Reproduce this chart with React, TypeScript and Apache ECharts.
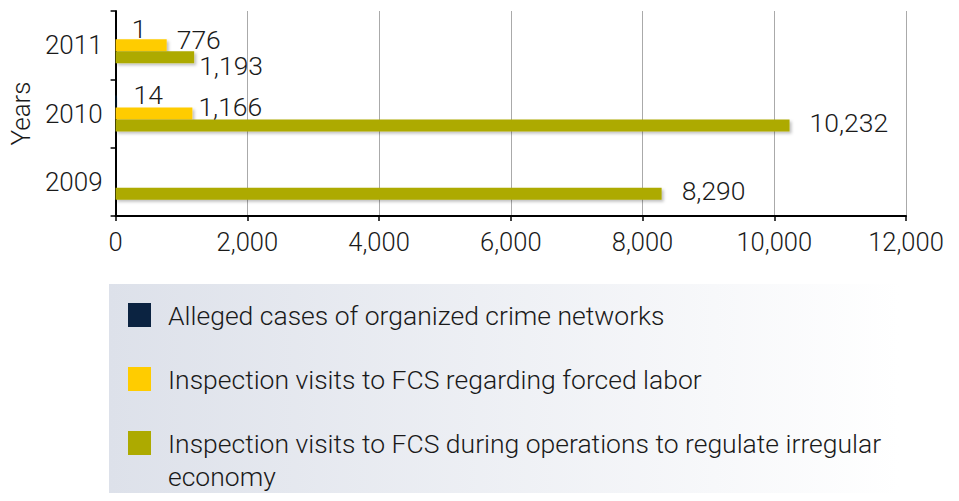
import React, { useEffect, useRef } from "react";
import * as echarts from "echarts";

const years = ["2009", "2010", "2011"];
const seriesNames = [
  "Alleged cases of organized crime networks",
  "Inspection visits to FCS regarding forced labor",
  "Inspection visits to FCS during operations to regulate irregular economy",
];
const legendLines = [
  ["Alleged cases of organized crime networks"],
  ["Inspection visits to FCS regarding forced labor"],
  ["Inspection visits to FCS during operations to regulate irregular", "economy"],
];
const organizedCrime: (number | null)[] = [null, 14, 1];
const forcedLabor: (number | null)[] = [null, 1166, 776];
const irregularEconomy: (number | null)[] = [8290, 10232, 1193];
const xTicks = [0, 2000, 4000, 6000, 8000, 10000, 12000];
const colors = ["#0b2341", "#ffcc00", "#adaa00"];

const FONT = "Roboto";
const fmt = (v: number) => v.toLocaleString("en-US");

export default function App() {
  const ref = useRef<HTMLDivElement>(null);
  useEffect(() => {
    if (!ref.current) return;
    const chart = echarts.init(ref.current, null, { renderer: "svg" });
    const shadow = {
      shadowBlur: 3,
      shadowColor: "rgba(0,0,0,0.25)",
      shadowOffsetX: 2,
      shadowOffsetY: 2,
    };
    const labelBase = {
      show: true,
      position: "right" as const,
      fontFamily: FONT,
      fontWeight: 300,
      fontSize: 26.5,
      color: "#1a1a1a",
      formatter: (p: any) => fmt(p.value),
    };
    // label placement per category index (style only)
    const olivePos = [
      { distance: 20, offset: [0, -3] },
      { distance: 20, offset: [0, -3] },
      { distance: 5, offset: [0, 8] },
    ];
    const yellowPos = [
      { distance: 8, offset: [0, -6] },
      { distance: 6, offset: [0, -7] },
      { distance: 10, offset: [0, -6] },
    ];
    const navyPos = [
      { distance: 15, offset: [0, -5] },
      { distance: 17, offset: [0, -7] },
      { distance: 16, offset: [0, -5] },
    ];
    const mk = (vals: (number | null)[], lab: (i: number) => any) =>
      vals.map((v, i) => ({ value: v, label: lab(i) }));

    const legendGraphics: any[] = [
      {
        type: "rect",
        shape: { x: 109, y: 284, width: 790, height: 217 },
        style: {
          fill: new echarts.graphic.LinearGradient(0, 0, 1, 0, [
            { offset: 0, color: "#dde1ea" },
            { offset: 1, color: "#ffffff" },
          ]),
        },
        silent: true,
        z: -10,
      },
    ];
    const rowY = [315, 379, 443];
    legendLines.forEach((lines, i) => {
      legendGraphics.push({
        type: "rect",
        shape: { x: 128, y: rowY[i] - 12, width: 23, height: 24 },
        style: { fill: colors[i] },
      });
      lines.forEach((t, j) => {
        legendGraphics.push({
          type: "text",
          x: 168,
          y: rowY[i] + j * 33,
          style: {
            text: t,
            fontFamily: FONT,
            fontWeight: 300,
            fontSize: 26.5,
            fill: "#1a1a1a",
            verticalAlign: "middle",
          },
        });
      });
    });

    chart.setOption({
      animation: false,
      backgroundColor: "#ffffff",
      grid: { left: 114, right: 53, top: 11, bottom: 285, containLabel: false },
      xAxis: {
        type: "value",
        min: 0,
        max: 12000,
        interval: 2000,
        axisLine: { show: true, lineStyle: { color: "#000", width: 2 } },
        axisTick: { show: true, length: 5, lineStyle: { color: "#000", width: 1.5 } },
        splitLine: { show: true, lineStyle: { color: "#aaaaaa", width: 1 } },
        axisLabel: {
          fontFamily: FONT,
          fontWeight: 300,
          fontSize: 25.5,
          color: "#1a1a1a",
          margin: 13,
          formatter: (v: number) => (xTicks.includes(v) ? fmt(v) : ""),
        },
      },
      yAxis: {
        type: "category",
        data: years,
        name: "Years",
        nameLocation: "middle",
        nameGap: 78,
        nameRotate: 90,
        nameTextStyle: { fontFamily: FONT, fontWeight: 300, fontSize: 26, color: "#1a1a1a" },
        axisLine: { show: true, onZero: false, lineStyle: { color: "#000", width: 2 } },
        axisTick: { show: true, length: 5, lineStyle: { color: "#000", width: 1.5 } },
        axisLabel: {
          fontFamily: FONT,
          fontWeight: 300,
          fontSize: 26,
          color: "#1a1a1a",
          margin: 13,
        },
        splitLine: { show: false },
      },
      series: [
        {
          name: seriesNames[0],
          type: "bar",
          data: mk(organizedCrime, (i) => ({ ...labelBase, ...navyPos[i] })),
          itemStyle: { color: colors[0], ...shadow },
          barWidth: 12,
          barGap: "0%",
        },
        {
          name: seriesNames[1],
          type: "bar",
          data: mk(forcedLabor, (i) => ({ ...labelBase, ...yellowPos[i] })),
          itemStyle: { color: colors[1], ...shadow },
          barWidth: 12,
          barGap: "0%",
        },
        {
          name: seriesNames[2],
          type: "bar",
          data: mk(irregularEconomy, (i) => ({ ...labelBase, ...olivePos[i] })),
          itemStyle: { color: colors[2], ...shadow },
          barWidth: 12,
          barGap: "0%",
        },
      ],
      graphic: legendGraphics,
    });
    return () => chart.dispose();
  }, []);
  return <div ref={ref} style={{ width: 959, height: 501, margin: -8 }} />;
}
